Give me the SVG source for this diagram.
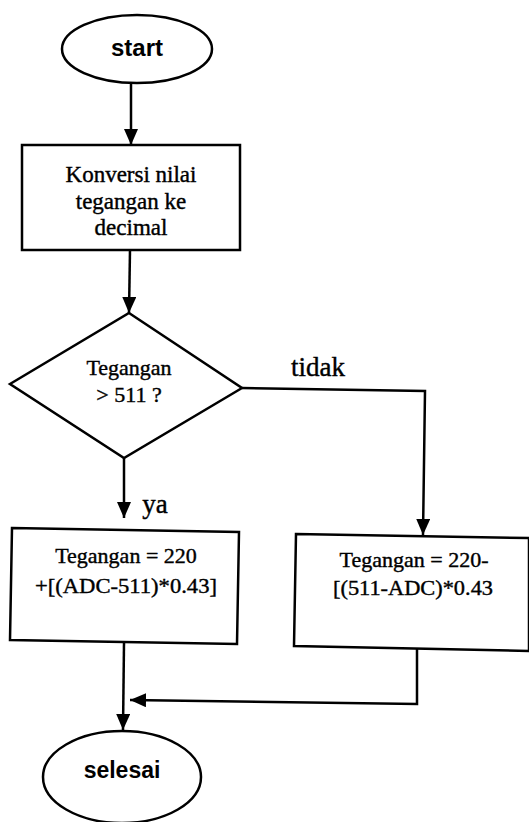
<svg xmlns="http://www.w3.org/2000/svg" width="529" height="822" viewBox="0 0 529 822">
<style>
.s{fill:#fff;stroke:#000;stroke-width:2.5}
.c{fill:none;stroke:#000;stroke-width:2.5}
.t{font-family:"Liberation Serif","Times New Roman",serif;fill:#000;stroke:#000;stroke-width:0.4;text-anchor:middle}
.b{font-family:"Liberation Sans",Arial,sans-serif;font-weight:bold;fill:#000;text-anchor:middle}
</style>
<defs>
<marker id="ah" markerWidth="16" markerHeight="14" refX="16" refY="7" orient="auto" markerUnits="userSpaceOnUse">
<path d="M0,0 L16,7 L0,14 Z" fill="#000"/>
</marker>
</defs>
<rect width="529" height="822" fill="#fff"/>
<g id="connectors">
<line class="c" x1="131" y1="83" x2="131" y2="145" marker-end="url(#ah)"/>
<line class="c" x1="130" y1="250" x2="129" y2="313" marker-end="url(#ah)"/>
<polyline class="c" points="242,388 425,391 423,535" marker-end="url(#ah)"/>
<line class="c" x1="124" y1="458" x2="124" y2="518" marker-end="url(#ah)"/>
<line class="c" x1="124" y1="643" x2="123" y2="730" marker-end="url(#ah)"/>
<polyline class="c" points="417,648 417,704 130,700" marker-end="url(#ah)"/>
</g>
<g id="start">
<ellipse class="s" cx="137" cy="49" rx="75" ry="34"/>
<text class="b" x="137" y="56" font-size="24">start</text>
</g>
<g id="konversi">
<rect class="s" x="22" y="145" width="218" height="105"/>
<text class="t" x="131" y="182" font-size="23">Konversi nilai</text>
<text class="t" x="131" y="209" font-size="23">tegangan ke</text>
<text class="t" x="131" y="235" font-size="23">decimal</text>
</g>
<g id="decision">
<polygon class="s" points="129,313 242,388 124,458 10,384"/>
<text class="t" x="129" y="375" font-size="22">Tegangan</text>
<text class="t" x="129" y="402" font-size="22">&gt; 511 ?</text>
</g>
<g id="labels">
<text class="t" x="318" y="376" font-size="27">tidak</text>
<text class="t" x="155" y="513" font-size="27">ya</text>
</g>
<g id="box-ya">
<polygon class="s" points="12,528 239,532 237,644 10,640"/>
<text class="t" x="126" y="563" font-size="22">Tegangan = 220</text>
<text class="t" x="126" y="593" font-size="22" textLength="182" lengthAdjust="spacingAndGlyphs">+[(ADC-511)*0.43]</text>
</g>
<g id="box-tidak">
<polygon class="s" points="296,534 529,538 529,651 294,646"/>
<text class="t" x="414" y="567" font-size="22">Tegangan = 220-</text>
<text class="t" x="413" y="595" font-size="22" textLength="160" lengthAdjust="spacingAndGlyphs">[(511-ADC)*0.43</text>
</g>
<g id="selesai">
<ellipse class="s" cx="122" cy="777" rx="79" ry="46"/>
<text class="b" x="122" y="778" font-size="23">selesai</text>
</g>
</svg>
